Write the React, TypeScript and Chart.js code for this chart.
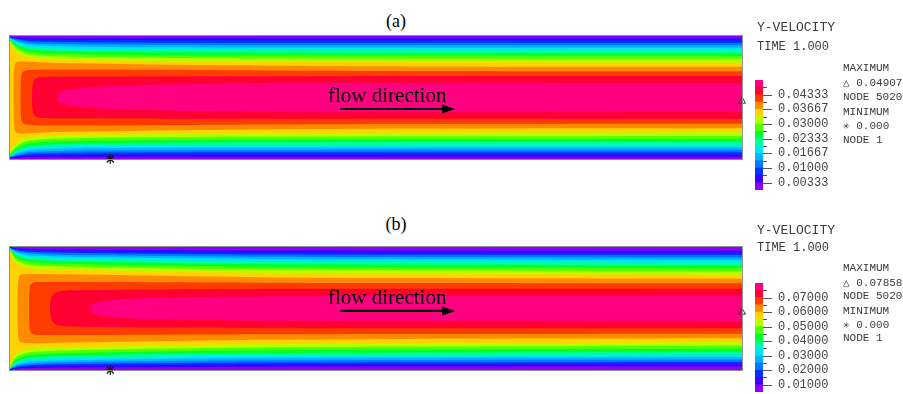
import React, { useEffect, useRef } from "react";
import { Chart, registerables } from "chart.js";

Chart.register(...registerables);

// ---------- data ----------
const BAND_COLORS = [
  "#8a00ff", "#3c00ff", "#0030ff", "#0078ff", "#00b4ff",
  "#00e6f0", "#00ff9a", "#00ff30", "#50ff00", "#b4ff00",
  "#ffd200", "#ff8c00", "#ff3c00", "#ff0032", "#ff0080",
];

// x: position along the channel (% of length); eta: transverse position (-1..1, walls at +-1)
const X_STATIONS = [0, 0.27, 0.68, 1.37, 2.73, 5.46, 12.3, 34.2, 100];

// (a) contour lines of levels 1..10 (touching the inlet), upper half eta at X_STATIONS
const A_WALL_CONTOURS = [
  [0.992, 0.989, 0.985, 0.979, 0.972, 0.968, 0.966, 0.965, 0.965],
  [0.984, 0.978, 0.97, 0.958, 0.945, 0.937, 0.933, 0.931, 0.93],
  [0.976, 0.968, 0.955, 0.938, 0.918, 0.905, 0.896, 0.892, 0.89],
  [0.968, 0.957, 0.94, 0.915, 0.888, 0.872, 0.86, 0.853, 0.85],
  [0.96, 0.945, 0.92, 0.89, 0.857, 0.837, 0.822, 0.814, 0.81],
  [0.95, 0.93, 0.9, 0.862, 0.822, 0.8, 0.783, 0.774, 0.77],
  [0.94, 0.915, 0.875, 0.83, 0.785, 0.76, 0.742, 0.728, 0.72],
  [0.93, 0.895, 0.85, 0.795, 0.745, 0.72, 0.7, 0.685, 0.675],
  [0.915, 0.87, 0.815, 0.755, 0.7, 0.675, 0.655, 0.635, 0.625],
  [0.9, 0.84, 0.77, 0.7, 0.645, 0.625, 0.605, 0.58, 0.565],
];
// (a) closed core contours of levels 11..14: [x, eta] along the upper half
const A_CORE_CONTOURS = [
  [[0.48, 0], [0.51, 0.3], [0.61, 0.5], [0.82, 0.57], [1.37, 0.585], [2.73, 0.58], [5.46, 0.565], [12.3, 0.55], [20.5, 0.535], [34.2, 0.52], [54.6, 0.505], [100, 0.5]],
  [[1.43, 0], [1.48, 0.25], [1.57, 0.37], [1.78, 0.42], [2.19, 0.44], [3.42, 0.45], [6.83, 0.455], [13.7, 0.455], [20.5, 0.45], [34.2, 0.44], [54.6, 0.43], [100, 0.425]],
  [[3.0, 0], [3.05, 0.15], [3.21, 0.26], [3.55, 0.31], [4.1, 0.33], [6.83, 0.338], [13.7, 0.34], [34.2, 0.345], [100, 0.348]],
  [[6.42, 0], [6.56, 0.06], [7.1, 0.1], [8.2, 0.13], [10.25, 0.16], [12.3, 0.18], [17.8, 0.205], [26.0, 0.225], [39.6, 0.24], [100, 0.235]],
];

const B_WALL_CONTOURS = [
  [0.994, 0.989, 0.981, 0.975, 0.968, 0.962, 0.956, 0.946, 0.94],
  [0.989, 0.981, 0.968, 0.958, 0.946, 0.937, 0.928, 0.912, 0.905],
  [0.984, 0.973, 0.955, 0.94, 0.922, 0.91, 0.898, 0.878, 0.868],
  [0.979, 0.965, 0.94, 0.918, 0.895, 0.88, 0.865, 0.842, 0.829],
  [0.974, 0.955, 0.925, 0.895, 0.865, 0.85, 0.832, 0.805, 0.79],
  [0.968, 0.945, 0.905, 0.87, 0.835, 0.815, 0.795, 0.765, 0.747],
  [0.962, 0.93, 0.88, 0.835, 0.795, 0.775, 0.755, 0.725, 0.703],
  [0.955, 0.91, 0.85, 0.8, 0.755, 0.735, 0.715, 0.68, 0.655],
  [0.945, 0.885, 0.81, 0.755, 0.71, 0.69, 0.67, 0.635, 0.603],
  [0.93, 0.85, 0.76, 0.7, 0.655, 0.64, 0.62, 0.58, 0.547],
];
const B_CORE_CONTOURS = [
  [[1.02, 0], [1.05, 0.3], [1.16, 0.48], [1.37, 0.54], [1.91, 0.555], [3.42, 0.56], [6.83, 0.555], [13.7, 0.545], [34.2, 0.51], [54.6, 0.495], [100, 0.485]],
  [[2.6, 0], [2.62, 0.25], [2.73, 0.36], [3.0, 0.41], [3.69, 0.43], [6.83, 0.43], [13.7, 0.43], [34.2, 0.42], [54.6, 0.415], [100, 0.41]],
  [[5.46, 0], [5.53, 0.12], [5.74, 0.2], [6.28, 0.26], [7.51, 0.29], [10.9, 0.3], [20.5, 0.31], [41.0, 0.32], [100, 0.322]],
  [[10.9, 0], [11.2, 0.06], [12.3, 0.11], [15.0, 0.15], [20.5, 0.18], [30.1, 0.195], [41.0, 0.2], [100, 0.21]],
];

// colour-bar levels
const A_LEVELS = [0, 0.00333, 0.00667, 0.01, 0.01333, 0.01667, 0.02, 0.02333, 0.02667, 0.03, 0.03333, 0.03667, 0.04, 0.04333, 0.04667, 0.05];
const A_TICK_VALUES = [0.00333, 0.01, 0.01667, 0.02333, 0.03, 0.03667, 0.04333];
const A_TICK_LABELS = ["0.00333", "0.01000", "0.01667", "0.02333", "0.03000", "0.03667", "0.04333"];
const B_LEVELS = [0.005, 0.01, 0.015, 0.02, 0.025, 0.03, 0.035, 0.04, 0.045, 0.05, 0.055, 0.06, 0.065, 0.07, 0.075, 0.08];
const B_TICK_VALUES = [0.01, 0.02, 0.03, 0.04, 0.05, 0.06, 0.07];
const B_TICK_LABELS = ["0.01000", "0.02000", "0.03000", "0.04000", "0.05000", "0.06000", "0.07000"];

// extreme nodes (x %, eta)
const A_MAX_NODE = { x: 100, y: -0.06 };
const A_MIN_NODE = { x: 13.7, y: -1 };
const B_MAX_NODE = { x: 100, y: -0.06 };
const B_MIN_NODE = { x: 13.7, y: -1 };

const A_INFO = { max: "0.04907", node: "NODE 5020", min: "0.000", minNode: "NODE 1" };
const B_INFO = { max: "0.07858", node: "NODE 5020", min: "0.000", minNode: "NODE 1" };

// ---------- helpers ----------
const X_LO = -3;
const X_HI = 103;
const MONO = "'Liberation Mono', 'DejaVu Sans Mono', monospace";
const SERIF = "'Liberation Serif', 'DejaVu Serif', serif";

function wallRegion(eta: number[]) {
  const upper = [{ x: X_LO, y: eta[0] }]
    .concat(X_STATIONS.map((x, i) => ({ x, y: eta[i] })))
    .concat([{ x: X_HI, y: eta[eta.length - 1] }]);
  const lower = upper.slice().reverse().map((p) => ({ x: p.x, y: -p.y }));
  return upper.concat(lower);
}

function coreRegion(pts: number[][]) {
  const upper = pts.map(([x, e]) => ({ x, y: e }));
  upper.push({ x: X_HI, y: pts[pts.length - 1][1] });
  const lower = upper.slice().reverse().map((p) => ({ x: p.x, y: -p.y }));
  return upper.concat(lower);
}

const channelDecor = {
  id: "channelDecor",
  afterDatasetsDraw(chart: any, _args: any, opts: any) {
    const { ctx, chartArea: a, scales } = chart;
    const sx = scales.x;
    const sy = scales.y;
    ctx.save();
    ctx.strokeStyle = "#8f8f8f";
    ctx.lineWidth = 1;
    ctx.strokeRect(a.left - 0.5, a.top - 0.5, a.right - a.left + 1, a.bottom - a.top + 1);
    const x0 = sx.getPixelForValue(opts.arrowFrom);
    const x1 = sx.getPixelForValue(opts.arrowTo);
    const y0 = sy.getPixelForValue(opts.arrowY);
    ctx.strokeStyle = "#000";
    ctx.fillStyle = "#000";
    ctx.lineWidth = 2.2;
    ctx.beginPath();
    ctx.moveTo(x0, y0);
    ctx.lineTo(x1 - 8, y0);
    ctx.stroke();
    ctx.beginPath();
    ctx.moveTo(x1, y0);
    ctx.lineTo(x1 - 13, y0 - 4.5);
    ctx.lineTo(x1 - 13, y0 + 4.5);
    ctx.closePath();
    ctx.fill();
    ctx.restore();
  },
};

const colorbarTicks = {
  id: "colorbarTicks",
  afterDraw(chart: any, _args: any, opts: any) {
    const { ctx, chartArea: a, scales } = chart;
    const sy = scales.y;
    ctx.save();
    ctx.strokeStyle = "#555";
    ctx.lineWidth = 1;
    opts.levels.forEach((v: number) => {
      const py = Math.round(sy.getPixelForValue(v)) + 0.5;
      const major = opts.majors.some((m: number) => Math.abs(m - v) < 1e-6);
      ctx.beginPath();
      ctx.moveTo(a.right, py);
      ctx.lineTo(a.right + (major ? 9 : 4), py);
      ctx.stroke();
    });
    ctx.restore();
  },
};

function ContourField(props: any) {
  const ref = useRef<HTMLCanvasElement>(null);
  useEffect(() => {
    const regions: any[] = [];
    regions.push(
      [{ x: X_LO, y: 1.2 }, { x: X_HI, y: 1.2 }, { x: X_HI, y: -1.2 }, { x: X_LO, y: -1.2 }]
    );
    props.wall.forEach((eta: number[]) => regions.push(wallRegion(eta)));
    props.core.forEach((pts: number[][]) => regions.push(coreRegion(pts)));
    const datasets: any[] = regions.map((data, k) => ({
      data,
      showLine: true,
      fill: "shape",
      backgroundColor: BAND_COLORS[k],
      borderColor: "rgba(0,0,0,0)",
      borderWidth: 0,
      pointRadius: 0,
      tension: 0.3,
      order: 100 - k,
    }));
    datasets.push({
      data: [props.maxNode],
      pointStyle: "triangle",
      pointRadius: 4,
      pointBackgroundColor: "rgba(0,0,0,0)",
      pointBorderColor: "#333",
      pointBorderWidth: 1,
      showLine: false,
      clip: false,
      order: -1,
    });
    datasets.push({
      data: [props.minNode],
      pointStyle: "star",
      pointRadius: 5,
      pointBorderColor: "#111",
      pointBorderWidth: 1.2,
      showLine: false,
      clip: false,
      order: -2,
    });
    const chart = new Chart(ref.current as HTMLCanvasElement, {
      type: "scatter",
      data: { datasets },
      options: {
        animation: false,
        responsive: false,
        maintainAspectRatio: false,
        layout: { padding: 10 },
        elements: { line: { capBezierPoints: false } },
        events: [],
        plugins: {
          legend: { display: false },
          tooltip: { enabled: false },
          channelDecor: props.arrow,
        } as any,
        scales: {
          x: { type: "linear", min: 0, max: 100, display: false },
          y: { type: "linear", min: -1, max: 1, display: false },
        },
      },
      plugins: [channelDecor],
    });
    return () => chart.destroy();
  }, []);
  return (
    <canvas
      ref={ref}
      width={752}
      height={143}
      style={{ position: "absolute", left: 0, top: props.top, width: 752, height: 143 }}
    />
  );
}

function ColorBar(props: any) {
  const ref = useRef<HTMLCanvasElement>(null);
  useEffect(() => {
    const levels: number[] = props.levels;
    const datasets = BAND_COLORS.map((c, i) => ({
      data: [[levels[i], levels[i + 1]]],
      backgroundColor: c,
      borderWidth: 0,
      borderSkipped: false,
      barPercentage: 1,
      categoryPercentage: 1,
    }));
    const chart = new Chart(ref.current as HTMLCanvasElement, {
      type: "bar",
      data: { labels: [""], datasets: datasets as any },
      options: {
        animation: false,
        responsive: false,
        maintainAspectRatio: false,
        events: [],
        layout: { padding: { left: 10, top: 10, bottom: 10, right: 0 } },
        plugins: {
          legend: { display: false },
          tooltip: { enabled: false },
          colorbarTicks: { levels: levels.slice(1, -1), majors: props.tickValues },
        } as any,
        scales: {
          x: { display: false, stacked: true },
          y: {
            stacked: false,
            position: "right",
            min: levels[0],
            max: levels[levels.length - 1],
            afterFit: (s: any) => {
              s.width = 132;
              s.paddingTop = 0;
              s.paddingBottom = 0;
            },
            afterBuildTicks: (s: any) => {
              s.ticks = props.tickValues.map((v: number) => ({ value: v }));
            },
            grid: { display: false, drawTicks: false },
            border: { display: false },
            ticks: {
              autoSkip: false,
              padding: 15,
              color: "#444",
              font: { family: MONO, size: 12 },
              callback: (_v: any, i: number) => props.tickLabels[i],
            },
          },
        },
      },
      plugins: [colorbarTicks],
    });
    return () => chart.destroy();
  }, []);
  return (
    <canvas
      ref={ref}
      width={150}
      height={props.height}
      style={{ position: "absolute", left: 745, top: props.top, width: 150, height: props.height }}
    />
  );
}

function Txt(props: any) {
  return (
    <div
      style={{
        position: "absolute",
        left: props.x,
        top: props.y,
        transform: props.center ? "translate(-50%, -50%)" : "translateY(-50%)",
        fontFamily: props.family || MONO,
        fontSize: props.size || 12,
        lineHeight: 1,
        color: props.color || "#3a3a3a",
        whiteSpace: "pre",
      }}
    >
      {props.children}
    </div>
  );
}

function Legend(props: any) {
  const t = props.t;
  return (
    <>
      <Txt x={757} y={t[0]} size={13}>Y-VELOCITY</Txt>
      <Txt x={757} y={t[1]} size={12}>TIME 1.000</Txt>
      <Txt x={843} y={t[2]} size={11}>MAXIMUM</Txt>
      <Txt x={843} y={t[3]} size={11}>{"\u25B3 " + props.info.max}</Txt>
      <Txt x={843} y={t[4]} size={11}>{props.info.node}</Txt>
      <Txt x={843} y={t[5]} size={11}>MINIMUM</Txt>
      <Txt x={843} y={t[6]} size={11}>{"\u2733 " + props.info.min}</Txt>
      <Txt x={843} y={t[7]} size={11}>{props.info.minNode}</Txt>
    </>
  );
}

export default function App() {
  return (
    <div style={{ position: "absolute", left: 0, top: 0, width: 903, height: 394, background: "#fff", overflow: "hidden" }}>
      <Txt x={396} y={21} size={18} family={SERIF} color="#000" center>(a)</Txt>
      <ContourField
        top={26}
        wall={A_WALL_CONTOURS}
        core={A_CORE_CONTOURS}
        maxNode={A_MAX_NODE}
        minNode={A_MIN_NODE}
        arrow={{ arrowFrom: 45.1, arrowTo: 60.8, arrowY: -0.187 }}
      />
      <Txt x={328} y={94.5} size={21} family={SERIF} color="#000">flow direction</Txt>
      <ColorBar top={70} height={130} levels={A_LEVELS} tickValues={A_TICK_VALUES} tickLabels={A_TICK_LABELS} />
      <Legend t={[27, 47, 68, 83, 97, 112, 126, 140]} info={A_INFO} />

      <Txt x={396} y={224} size={18} family={SERIF} color="#000" center>(b)</Txt>
      <ContourField
        top={237}
        wall={B_WALL_CONTOURS}
        core={B_CORE_CONTOURS}
        maxNode={B_MAX_NODE}
        minNode={B_MIN_NODE}
        arrow={{ arrowFrom: 45.1, arrowTo: 60.8, arrowY: -0.04 }}
      />
      <Txt x={328} y={296.5} size={21} family={SERIF} color="#000">flow direction</Txt>
      <ColorBar top={273} height={129} levels={B_LEVELS} tickValues={B_TICK_VALUES} tickLabels={B_TICK_LABELS} />
      <Legend t={[230, 248, 268, 283, 296, 311, 325, 338]} info={B_INFO} />
    </div>
  );
}
